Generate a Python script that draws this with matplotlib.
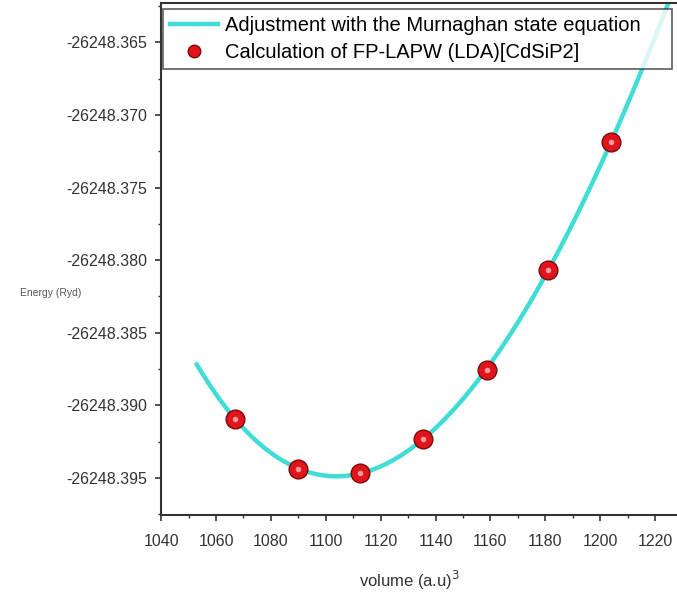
import matplotlib
import matplotlib.pyplot as plt
import numpy as np
from matplotlib.ticker import FormatStrFormatter, MultipleLocator

matplotlib.use('agg')

# FP-LAPW (LDA) points for CdSiP2
volume = [1067.0, 1090.0, 1112.6, 1135.6, 1158.6, 1181.0, 1204.0]
energy = [-26248.39094, -26248.39438, -26248.39466, -26248.39231,
          -26248.38756, -26248.38067, -26248.37186]

fit_label = "Adjustment with the Murnaghan state equation"
calc_label = "Calculation of FP-LAPW (LDA)[CdSiP2]"

E_REF = -26248.0


def murnaghan_shape(v, v0, bp):
    return v / bp * ((v0 / v) ** bp / (bp - 1) + 1) - v0 / (bp - 1)


def fit_murnaghan(v, e):
    # E = E0 + B0 * shape(V; V0, B'), linear in E0 and B0 -> grid over V0, B'
    v = np.asarray(v)
    e = np.asarray(e) - E_REF
    best = None
    for v0 in np.linspace(1080, 1130, 501):
        for bp in np.linspace(1.5, 9.0, 151):
            a = np.column_stack([np.ones_like(v), murnaghan_shape(v, v0, bp)])
            coef, *_ = np.linalg.lstsq(a, e, rcond=None)
            res = np.sum((a @ coef - e) ** 2)
            if best is None or res < best[0]:
                best = (res, v0, bp, coef)
    _, v0, bp, coef = best
    return lambda x: E_REF + coef[0] + coef[1] * murnaghan_shape(x, v0, bp)


plt.rcParams['font.family'] = ['Liberation Sans', 'DejaVu Sans']

fig = plt.figure(figsize=(6.77, 5.98), dpi=100)
ax = fig.add_axes([0.238, 0.139, 0.762, 0.856])

model = fit_murnaghan(volume, energy)
v_fit = np.linspace(1053, 1230, 400)
ax.plot(v_fit, model(v_fit), color='#40dcd6', lw=3.2, label=fit_label, zorder=2)
ax.plot(volume, energy, ls='none', marker='o', ms=13.5, mfc='#e0141a',
        mec='#7a0a0a', mew=1.0, label=calc_label, zorder=3)
# little highlight on each sphere
ax.plot(volume, energy, ls='none', marker='o', ms=4, mfc='#ff9a9a',
        mec='none', zorder=4)

ax.set_xlim(1040, 1228)
ax.set_ylim(-26248.39755, -26248.36229)
ax.xaxis.set_major_locator(MultipleLocator(20))
ax.xaxis.set_minor_locator(MultipleLocator(10))
ax.yaxis.set_major_locator(MultipleLocator(0.005))
ax.yaxis.set_minor_locator(MultipleLocator(0.0025))
ax.yaxis.set_major_formatter(FormatStrFormatter('%.3f'))
ax.tick_params(which='major', direction='out', length=4, width=1.2,
               labelsize=11.5, labelcolor='#333333', color='#333333')
ax.tick_params(which='minor', direction='out', length=2.5, width=1.0,
               color='#333333')
ax.tick_params(axis='x', which='major', pad=10)
ax.tick_params(axis='y', which='major', pad=6)
for side in ['left', 'bottom', 'top']:
    ax.spines[side].set_color('#333333')
    ax.spines[side].set_linewidth(1.5)
ax.spines['right'].set_visible(False)

fig.text(0.03, 0.51, "Energy (Ryd)", fontsize=7.5, color='#555555',
         ha='left', va='center')
fig.text(0.605, 0.03, r"volume (a.u)$^3$", fontsize=12, color='#333333',
         ha='center', va='center')

leg = ax.legend(loc='upper left', bbox_to_anchor=(0.004, 0.988, 0.986, 0.0),
                mode='expand', fontsize=14.5, frameon=True, fancybox=False,
                handlelength=2.35, handletextpad=0.35, borderpad=0.35,
                labelspacing=0.4, borderaxespad=0.0)
leg.get_frame().set_edgecolor('#333333')
leg.get_frame().set_linewidth(1.2)
for h in leg.legend_handles[1:]:
    h.set_markersize(9)

fig.savefig('out.png', dpi=100)
plt.close()
